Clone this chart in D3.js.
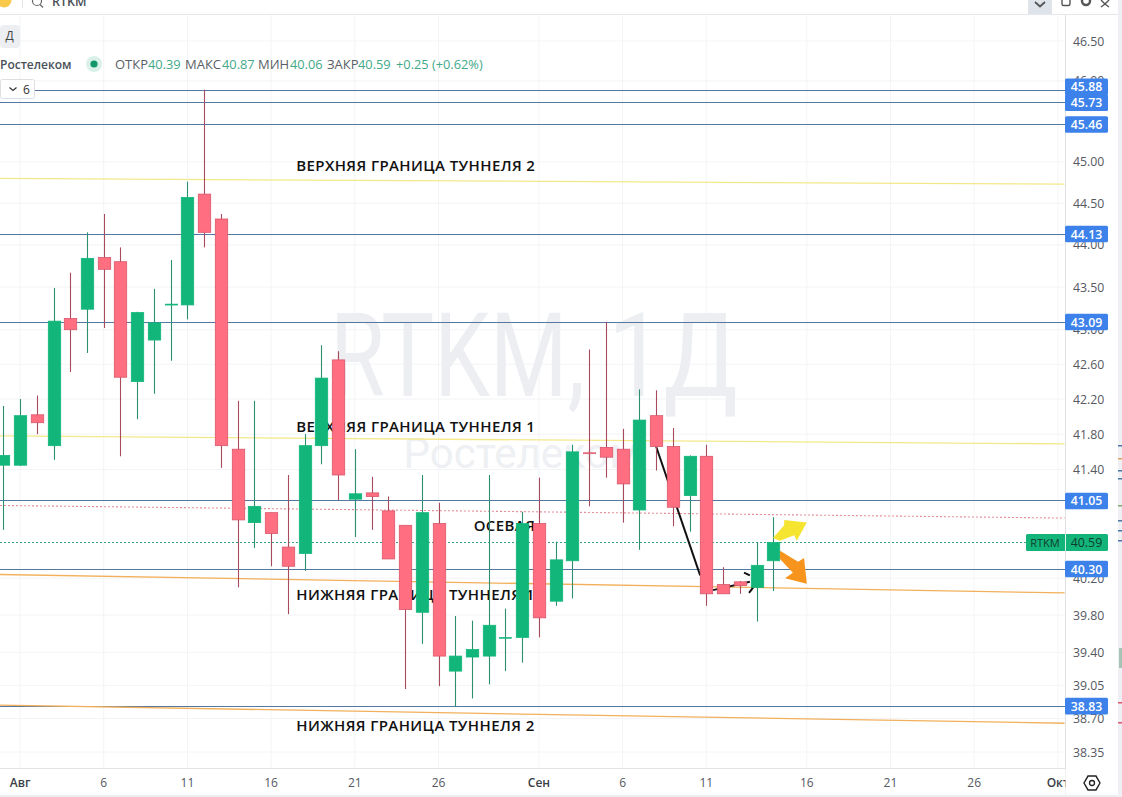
<!DOCTYPE html><html><head><meta charset="utf-8"><style>html,body{margin:0;background:#fff}svg{display:block}text{font-family:"Open Sans",sans-serif}</style></head><body><svg id="c" width="1122" height="797"></svg><script src="https://cdn.jsdelivr.net/npm/d3@7"></script><script>
const highs=[42.12,42.20,42.24,43.49,43.67,44.15,44.37,43.97,43.21,43.48,43.82,44.76,45.89,44.37,42.18,42.18,40.92,41.34,41.80,42.82,42.75,41.63,41.32,41.10,40.78,41.34,41.03,39.79,39.74,41.34,39.87,40.93,41.31,40.60,41.68,42.77,43.09,41.86,42.31,42.30,41.87,41.56,41.68,40.32,40.17,40.59,40.87];
const tops=[41.56,42.01,42.02,43.10,43.13,43.84,43.85,43.80,43.20,43.08,43.30,44.57,44.61,44.31,41.63,40.99,40.92,40.54,41.67,42.44,42.65,41.13,41.14,40.94,40.78,40.92,40.80,39.36,39.43,39.69,39.56,40.80,40.80,40.40,41.60,41.59,41.65,41.63,41.96,42.01,41.66,41.55,41.55,40.13,40.16,40.34,40.59];
const bottoms=[41.45,41.45,41.93,41.67,43.00,43.24,43.71,42.45,42.40,42.88,43.30,43.29,44.15,41.67,40.84,40.81,40.69,40.33,40.47,41.67,41.34,41.07,41.10,40.41,39.86,39.83,39.36,39.20,39.35,39.36,39.56,39.56,39.77,39.95,40.39,41.59,41.54,41.24,40.95,41.66,40.98,41.11,40.03,40.03,40.12,40.10,40.39];
const lows=[40.73,41.44,41.80,41.51,42.51,42.73,43.02,41.55,41.97,42.26,42.64,43.12,43.97,41.42,40.10,40.53,40.33,39.81,40.28,41.46,41.06,40.65,40.73,40.41,39.01,39.49,39.04,38.82,38.91,39.06,39.20,39.29,39.56,39.90,39.98,40.99,41.31,40.81,40.51,41.39,40.77,40.71,39.90,40.03,40.03,39.73,40.06];
const direction="ggrgrgrrgg"+"ggrrrgrrgg"+"rgrrrgrggg"+"ggrggrrrgr"+"rgrrrgg";
const priceTicks=[46.5,46,45,44.5,44,43.5,43,42.6,42.2,41.8,41.4,40.2,39.8,39.4,39.05,38.7,38.35];
const levelPrices=[45.88,45.73,45.46,44.13,43.09,41.05,40.30,38.83];
const lastPrice=40.59;
const dateLabels=["Авг","6","11","16","21","26","Сен","6","11","16","21","26","Окт"];
const dateBars=[1,6,11,16,21,26,32,37,42,48,53,58,63];
const tunnels=[
 {a:[-0.2,44.80],b:[63.4,44.73],c:"#f4e88a",w:1.3},
 {a:[-0.2,41.78],b:[63.4,41.69],c:"#f4e88a",w:1.3},
 {a:[-0.2,40.24],b:[63.4,40.04],c:"#f2b05c",w:1.3},
 {a:[-0.2,38.84],b:[63.4,38.65],c:"#f2b05c",w:1.3}];
const midLine={a:[-0.2,41.00],b:[63.4,40.86]};
const notes=[
 {t:"ВЕРХНЯЯ ГРАНИЦА ТУННЕЛЯ 2",bar:17.5,p:44.89},
 {t:"ВЕРХНЯЯ ГРАНИЦА ТУННЕЛЯ 1",bar:17.5,p:41.83},
 {t:"ОСЕВАЯ",bar:28.1,p:40.72},
 {t:"НИЖНЯЯ ГРАНИЦА ТУННЕЛЯ 1",bar:17.5,p:39.965},
 {t:"НИЖНЯЯ ГРАНИЦА ТУННЕЛЯ 2",bar:17.5,p:38.57}];
const blackLines=[[[39,41.66],[41.63,40.23]],[[42.4,40.07],[44.6,40.16]],[[44.25,40.26],[44.6,40.23]],[[44.55,40.04],[44.8,40.10]]];
const yellowArrow=[[45.98,40.64],[46.65,40.78],[46.65,40.84],[48,40.81],[47.4,40.61],[47.25,40.67],[46.4,40.61]];
const orangeArrow=[[46.4,40.50],[47.48,40.38],[47.84,40.42],[48,40.14],[46.7,40.20],[47.17,40.26],[46.4,40.41]];
const neighbourMarks=[[445,"#4f76a8"],[458,"#e0a060"],[470,"#4f76a8"],[478,"#4f76a8"],[505,"#8aa870"],[520,"#4f76a8"],[530,"#4f76a8"],[540,"#4f76a8"],[702,"#d9566b"],[722,"#d9566b"]];

const svg=d3.select("#c");
const x=d3.scaleLinear().domain([0,46]).range([3.3,773.3]);
const y=d3.scaleLog().domain([46.5,38.35]).range([41,752]);
const G="#12b67a",R="#ff6f81",GW="#2b8f70",RW="#a94a5c",RB="#d9566b";
const W=1065,B=768;
svg.append("defs").append("clipPath").attr("id","pl").append("rect").attr("y",14).attr("width",W).attr("height",B-14);
const plot=svg.append("g").attr("clip-path","url(#pl)");
const crisp=v=>Math.floor(v)+.5;

// grid
plot.selectAll(".gv").data(dateBars).join("line").attr("x1",d=>x(d)).attr("x2",d=>x(d)).attr("y1",14).attr("y2",B).attr("stroke","#f3f4f6");
plot.selectAll(".gh").data(priceTicks).join("line").attr("x1",0).attr("x2",W).attr("y1",d=>y(d)).attr("y2",d=>y(d)).attr("stroke","#f3f4f6");

// watermark
plot.append("text").attr("x",330).attr("y",396).attr("font-size",116).attr("fill","#eceef1").attr("textLength",255).attr("lengthAdjust","spacingAndGlyphs").style("font-family","Roboto").text("RTKM,");
plot.append("text").attr("x",608).attr("y",396).attr("font-size",116).attr("fill","#eceef1").attr("textLength",130).attr("lengthAdjust","spacingAndGlyphs").style("font-family","Roboto").text("1Д");
plot.append("text").attr("x",522).attr("y",468).attr("text-anchor","middle").attr("font-size",42).attr("fill","#eef0f3").style("font-family","Roboto").text("Ростелеком");

// level lines
plot.selectAll(".lv").data(levelPrices).join("line").attr("x1",0).attr("x2",W).attr("y1",d=>crisp(y(d))).attr("y2",d=>crisp(y(d))).attr("stroke","#55789f").attr("stroke-width",1);
// tunnels
plot.selectAll(".tn").data(tunnels).join("line").attr("x1",d=>x(d.a[0])).attr("y1",d=>y(d.a[1])).attr("x2",d=>x(d.b[0])).attr("y2",d=>y(d.b[1])).attr("stroke",d=>d.c).attr("stroke-width",d=>d.w);
plot.append("line").attr("x1",x(midLine.a[0])).attr("y1",y(midLine.a[1])).attr("x2",x(midLine.b[0])).attr("y2",y(midLine.b[1])).attr("stroke","#e58a96").attr("stroke-width",1.1).attr("stroke-dasharray","2 2");
plot.append("line").attr("x1",0).attr("x2",1027).attr("y1",crisp(y(lastPrice))).attr("y2",crisp(y(lastPrice))).attr("stroke","#35a583").attr("stroke-width",1).attr("stroke-dasharray","2 2");
// notes
plot.selectAll(".nt").data(notes).join("text").attr("x",d=>x(d.bar)).attr("y",d=>y(d.p)).attr("font-size",15).attr("font-weight",600).attr("fill","#111").attr("letter-spacing",.4).text(d=>d.t);
// black drawn lines
plot.selectAll(".bl").data(blackLines).join("line").attr("x1",d=>x(d[0][0])).attr("y1",d=>y(d[0][1])).attr("x2",d=>x(d[1][0])).attr("y2",d=>y(d[1][1])).attr("stroke","#111").attr("stroke-width",2);

// candles
const bars=d3.range(highs.length);
const col=i=>direction[i]==="g";
plot.selectAll(".wick").data(bars).join("line").attr("x1",i=>Math.round(x(i))+.5).attr("x2",i=>Math.round(x(i))+.5).attr("y1",i=>y(highs[i])).attr("y2",i=>y(lows[i])).attr("stroke",i=>col(i)?GW:RW).attr("stroke-width",1.1);
plot.selectAll(".body").data(bars).join("rect").attr("x",i=>Math.round(x(i))-5.7).attr("width",12.4).attr("y",i=>y(tops[i])).attr("height",i=>Math.max(y(bottoms[i])-y(tops[i]),1)).attr("fill",i=>col(i)?G:R).attr("stroke",i=>col(i)?G:RB).attr("stroke-width",i=>tops[i]===bottoms[i]?.6:.8);

// arrows
const pg=d3.line().x(d=>x(d[0])).y(d=>y(d[1])).curve(d3.curveLinearClosed);
plot.append("path").attr("d",pg(yellowArrow)).attr("fill","#f5e531");
plot.append("path").attr("d",pg(orangeArrow)).attr("fill","#f7941e");

// axes chrome
svg.append("line").attr("x1",W+.5).attr("x2",W+.5).attr("y1",14).attr("y2",797).attr("stroke","#dfe1e5");
svg.append("line").attr("x1",0).attr("x2",W).attr("y1",B+.5).attr("y2",B+.5).attr("stroke","#e0e2e6");
svg.append("rect").attr("x",0).attr("y",795).attr("width",1118).attr("height",2).attr("fill","#eceef1");
svg.append("rect").attr("x",1118).attr("y",0).attr("width",4).attr("height",797).attr("fill","#eef0f3");
svg.selectAll(".nm").data(neighbourMarks).join("rect").attr("x",1118).attr("y",d=>d[0]).attr("width",4).attr("height",1.5).attr("fill",d=>d[1]);
svg.append("rect").attr("x",1119).attr("y",648).attr("width",3).attr("height",20).attr("fill","#a9c4b6");

// price ticks
const fmt=d3.format(".2f");
svg.selectAll(".pt").data(priceTicks).join("text").attr("x",1073).attr("y",d=>y(d)+4.5).attr("font-size",12.3).attr("fill","#55585f").text(fmt);
// date ticks
svg.selectAll(".dt").data(dateBars).join("text").attr("x",d=>x(d)).attr("y",787).attr("text-anchor","middle").attr("font-size",12).attr("fill",(d,i)=>/[А-я]/.test(dateLabels[i])?"#3a3f47":"#55585f").attr("font-weight",(d,i)=>/[А-я]/.test(dateLabels[i])?600:400).text((d,i)=>dateLabels[i]);
svg.append("rect").attr("x",1065.5).attr("y",769).attr("width",52).attr("height",26).attr("fill","#fff");
// level labels: the top label is pushed up so that it clears its neighbour
const labelY=d=>d===levelPrices[0]?y(d)-3.8:y(d);
svg.selectAll(".lb").data(levelPrices).join("rect").attr("x",1065).attr("width",43).attr("y",d=>labelY(d)-8.3).attr("height",16.6).attr("rx",1.5).attr("fill","#3c82ea");
svg.selectAll(".lt").data(levelPrices).join("text").attr("x",1086.5).attr("y",d=>labelY(d)+4.5).attr("text-anchor","middle").attr("font-size",12.3).attr("font-weight",600).attr("fill","#fff").text(fmt);
// last price
const ly=y(lastPrice);
svg.append("rect").attr("x",1026).attr("width",82).attr("y",ly-8.5).attr("height",17).attr("rx",1.5).attr("fill","#13b47a");
svg.append("line").attr("x1",1065.5).attr("x2",1065.5).attr("y1",ly-8.5).attr("y2",ly+8.5).attr("stroke","#dff3ea");
svg.append("text").attr("x",1045).attr("y",ly+4).attr("text-anchor","middle").attr("font-size",11).attr("fill","#0d3d2c").text("RTKM");
svg.append("text").attr("x",1086.5).attr("y",ly+4.5).attr("text-anchor","middle").attr("font-size",12.3).attr("fill","#0d3d2c").text(fmt(lastPrice));
// settings
svg.append("path").attr("d",d3.line()(d3.range(6).map(k=>[1092+8*Math.cos(k*Math.PI/3),783+8*Math.sin(k*Math.PI/3)]))+"Z").attr("fill","none").attr("stroke","#222").attr("stroke-width",1.4);
svg.append("circle").attr("cx",1092).attr("cy",783).attr("r",2.5).attr("fill","none").attr("stroke","#222").attr("stroke-width",1.3);

// top bar
svg.append("rect").attr("width",1118).attr("height",14).attr("fill","#fff");
svg.append("line").attr("x1",0).attr("x2",1118).attr("y1",14.5).attr("y2",14.5).attr("stroke","#e5e7ea");
svg.append("circle").attr("cx",4).attr("cy",0).attr("r",7.5).attr("fill","#f8c94a");
svg.append("line").attr("x1",22.5).attr("x2",22.5).attr("y1",0).attr("y2",8).attr("stroke","#e2e4e8");
svg.append("circle").attr("cx",37).attr("cy",1).attr("r",4.5).attr("fill","none").attr("stroke","#666").attr("stroke-width",1.2);
svg.append("line").attr("x1",40).attr("y1",4.5).attr("x2",43).attr("y2",7.5).attr("stroke","#666").attr("stroke-width",1.2);
svg.append("text").attr("x",52).attr("y",6).attr("font-size",12.5).attr("font-weight",600).attr("fill","#4a4f57").text("RTKM");
svg.append("rect").attr("x",1028).attr("width",24).attr("height",14).attr("fill","#dfe3ea");
svg.append("path").attr("d","M1035 2l5 4.5 5-4.5").attr("fill","none").attr("stroke","#555").attr("stroke-width",1.8);
svg.append("rect").attr("x",1062).attr("y",-4).attr("width",8).attr("height",9.5).attr("rx",1.5).attr("fill","none").attr("stroke","#555").attr("stroke-width",1.4);
svg.append("circle").attr("cx",1086).attr("cy",1).attr("r",4).attr("fill","none").attr("stroke","#555").attr("stroke-width",2.4);
svg.append("path").attr("d","M1101 0l4 4 4-4M1101 7l4-3 4 3").attr("fill","none").attr("stroke","#555").attr("stroke-width",1.4);

// legend
svg.append("rect").attr("x",0).attr("y",25).attr("width",20).attr("height",23).attr("rx",4).attr("fill","#eceef2");
svg.append("text").attr("x",9.5).attr("y",40).attr("text-anchor","middle").attr("font-size",12).attr("fill","#444").text("Д");
svg.append("text").attr("x",0).attr("y",69).attr("font-size",12).attr("font-weight",600).attr("fill","#4a5058").text("Ростелеком");
svg.append("circle").attr("cx",94).attr("cy",64).attr("r",8).attr("fill","#d9f1e8");
svg.append("circle").attr("cx",94).attr("cy",64).attr("r",3.6).attr("fill","#13966a");
const legendLabels=[["ОТКР",115],["МАКС",185],["МИН",258],["ЗАКР",327]];
const legendValues=[["40.39",148],["40.87",222],["40.06",290],["40.59",358],["+0.25 (+0.62%)",396]];
svg.selectAll(".ll").data(legendLabels).join("text").attr("x",d=>d[1]).attr("y",69).attr("font-size",13).attr("fill","#5a5f67").text(d=>d[0]);
svg.selectAll(".lv2").data(legendValues).join("text").attr("x",d=>d[1]).attr("y",69).attr("font-size",12.8).attr("fill","#3fa98a").text(d=>d[0]);
svg.append("rect").attr("x",.5).attr("y",79.5).attr("width",34).attr("height",19).attr("rx",2).attr("fill","#fff").attr("stroke","#dcdee2");
svg.append("path").attr("d","M9.5 87.5l3.5 3 3.5-3").attr("fill","none").attr("stroke","#333").attr("stroke-width",1.2);
svg.append("text").attr("x",23).attr("y",94).attr("font-size",12).attr("fill","#333").text("6");
</script></body></html>
